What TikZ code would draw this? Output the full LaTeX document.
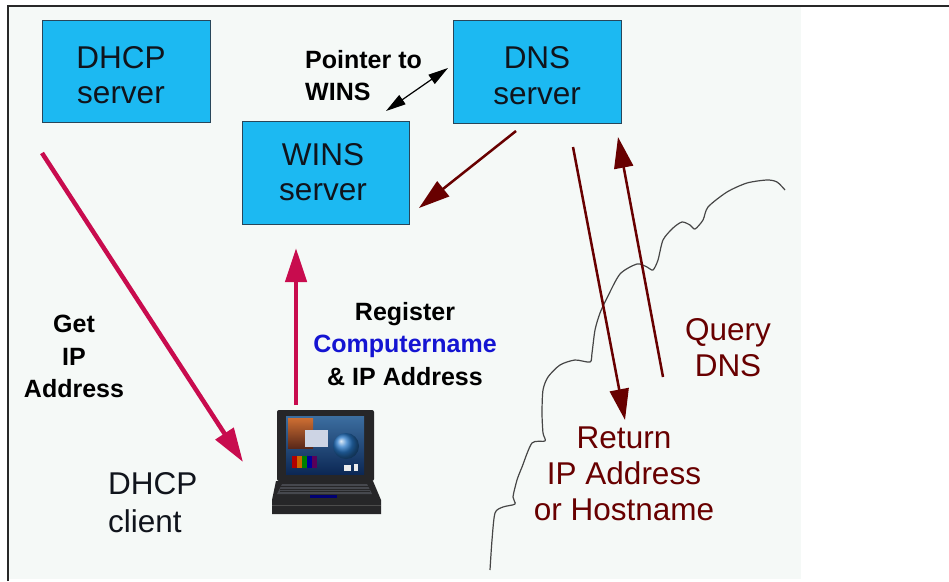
\documentclass[tikz,border=0pt]{standalone}
\usepackage{fontspec}
\setmainfont{Liberation Sans}
\usetikzlibrary{arrows.meta}

\definecolor{paper}{RGB}{245,249,247}
\definecolor{boxcyan}{RGB}{28,185,242}
\definecolor{boxedge}{RGB}{40,70,90}
\definecolor{inktext}{RGB}{16,20,28}
\definecolor{crimson}{RGB}{200,12,78}
\definecolor{darkred}{RGB}{104,0,0}
\definecolor{bluetext}{RGB}{20,20,210}
\definecolor{framegray}{RGB}{40,40,40}
\definecolor{cloudgray}{RGB}{70,70,70}
\definecolor{lapbody}{RGB}{38,38,40}
\definecolor{lapkeys}{RGB}{70,72,78}
\definecolor{scrtop}{RGB}{60,110,160}
\definecolor{scrbot}{RGB}{12,40,85}
\definecolor{winorange}{RGB}{205,110,50}
\definecolor{winbrown}{RGB}{90,40,25}
\definecolor{winlight}{RGB}{205,212,228}
\definecolor{globeblue}{RGB}{40,120,200}

\begin{document}
\begin{tikzpicture}[x=1pt, y=-1pt,
  server/.style={draw=boxedge, line width=1pt, fill=boxcyan, inner sep=0pt,
    minimum width=168pt, minimum height=102pt},
  servertext/.style={inner sep=0pt, align=center, text=inktext,
    font=\fontsize{31.5}{35.5}\selectfont},
  boldlabel/.style={inner sep=0pt, text=black, font=\bfseries\fontsize{25}{32.5}\selectfont},
  plainlabel/.style={inner sep=0pt, text=inktext, font=\fontsize{31.5}{38}\selectfont},
  redlabel/.style={inner sep=0pt, text=darkred, font=\fontsize{31.5}{36}\selectfont},
  crimsonarrow/.style={draw=crimson, line width=4.5pt, -{Triangle[length=34pt, width=21pt]}},
  darkarrow/.style={draw=darkred, line width=2.5pt, -{Triangle[length=31pt, width=19pt]}},
  ptrarrow/.style={draw=black, line width=1.2pt,
    {Triangle[length=20pt, width=11pt]}-{Triangle[length=20pt, width=11pt]}},
  frameline/.style={draw=framegray, line width=1.5pt},
  cloudline/.style={draw=cloudgray, line width=1.2pt, line join=round},
]
\useasboundingbox (0,0) rectangle (949,581);
\fill[white] (0,0) rectangle (949,581);
\fill[paper] (8,6) rectangle (801,579);
\draw[frameline] (8,581) -- (8,6) -- (949,6);

% servers
\node[server] (dhcp) at (126,71) {};
\node[server, minimum height=103pt] (dns) at (537,71.5) {};
\node[server, minimum width=167pt, minimum height=103pt] (wins) at (325.5,172.5) {};
\node[servertext] (dhcptext) at (121,75) {DHCP\\server};
\node[servertext] (dnstext) at (537,75.5) {DNS\\server};
\node[servertext] (winstext) at (323,172) {WINS\\server};

% edge of the outside network
\draw[cloudline] plot[smooth, tension=0.45] coordinates {
  (490,570) (492,540) (495,513) (503,507) (515,504) (513,497) (517,480)
  (522,467) (532,443) (545,441) (543,433) (542,413) (543,390) (548,377)
  (560,365) (575,360) (590,362) (592,353) (595,330) (600,313) (607,298)
  (620,274) (637,264) (647,267) (653,270) (658,260) (663,240) (673,228)
  (682,222) (690,225) (695,229) (703,220) (708,207) (727,192) (747,183)
  (767,180) (777,182) (785,190)};

% laptop (DHCP client)
\node[minimum width=110pt, minimum height=106pt, inner sep=0pt] (laptop) at (326.5,462.5) {};
\fill[lapbody, rounded corners=2pt] (277,410) rectangle (374,481);
\shade[top color=scrtop, bottom color=scrbot] (286,416) rectangle (364,474);
\shade[top color=winorange, bottom color=winbrown] (288,418) rectangle (313,448);
\fill[winlight] (305,430) rectangle (328,447);
\fill[red!70!black] (292,456) rectangle (297,468);
\fill[orange!80!black] (297,456) rectangle (302,468);
\fill[green!50!black] (302,456) rectangle (307,468);
\fill[blue!60!black] (307,456) rectangle (312,468);
\fill[violet!70!black] (312,456) rectangle (317,468);
\shade[ball color=globeblue] (346,446) circle (13);
\fill[white!85!gray] (344,465) rectangle (351,471);
\fill[white!85!gray] (354,464) rectangle (358,471);
\fill[lapbody] (276,481) -- (373,481) -- (381,500) -- (381,514) -- (272,514) -- (272,500) -- cycle;
\fill[lapkeys] (282,484) -- (367,484) -- (372,494) -- (277,494) -- cycle;
\foreach \k in {486.5,489,491.5} \draw[lapbody, line width=0.6pt] (280,\k) -- (370,\k);
\fill[blue!45!black] (310,495) rectangle (337,498);
\draw[black!70, line width=0.8pt] (272,505) -- (381,505);

% labels
\node[boldlabel, align=left, anchor=north west] (ptrlabel) at (305,50) {Pointer to\\WINS};
\node[boldlabel, align=center, anchor=north] (getlabel) at (74,315) {Get\\IP\\Address};
\node[boldlabel, align=center, anchor=north] (reglabel) at (405,302)
  {Register\\\textcolor{bluetext}{Computername}\\\& IP Address};
\node[plainlabel, align=left, anchor=north west] (clientlabel) at (108,472) {DHCP\\client};
\node[redlabel, align=center, anchor=north] (querylabel) at (728,318) {Query\\DNS};
\node[redlabel, align=center, anchor=north] (retlabel) at (624,427) {Return\\IP Address\\or Hostname};

% connector end points
\coordinate (getfrom) at (42,153);
\coordinate (getto) at (243,462);
\coordinate (regfrom) at (296,405);
\coordinate (regto) at (296,248);
\coordinate (ptra) at (386,111);
\coordinate (ptrb) at (448,68);
\coordinate (winsfrom) at (516,131);
\coordinate (winsto) at (419,208);
\coordinate (retfrom) at (573,147);
\coordinate (retto) at (625,420);
\coordinate (qryfrom) at (663,377);
\coordinate (qryto) at (618,137);

% connectors
\draw[crimsonarrow] (getfrom) -- (getto);
\draw[crimsonarrow] (regfrom) -- (regto);
\draw[ptrarrow] (ptra) -- (ptrb);
\draw[darkarrow] (winsfrom) -- (winsto);
\draw[darkarrow] (retfrom) -- (retto);
\draw[darkarrow] (qryfrom) -- (qryto);
\end{tikzpicture}
\end{document}
